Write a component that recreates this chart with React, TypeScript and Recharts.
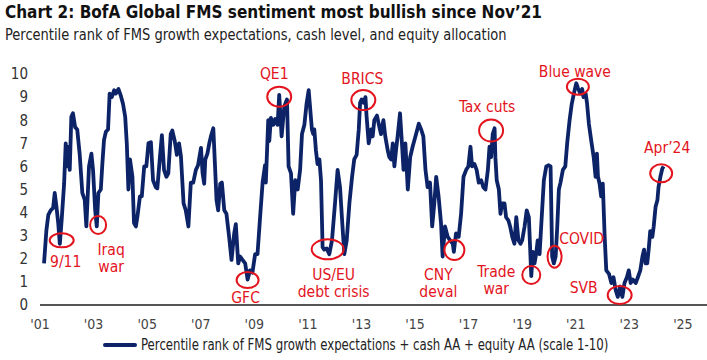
import { LineChart, Line, XAxis, YAxis, ReferenceDot } from "recharts";

const FONT = "'Liberation Sans Narrow', 'DejaVu Sans Condensed', 'Roboto', sans-serif";
const NAVY = "#0c2467";
const RED = "#e3141d";

// dates as decimal years
const dates = [
  2001.15, 2001.24, 2001.31, 2001.4, 2001.49, 2001.55, 2001.61, 2001.68, 2001.74, 2001.81, 2001.9, 2001.96,
  2002.02, 2002.08, 2002.11, 2002.17, 2002.23, 2002.31, 2002.39, 2002.48, 2002.58, 2002.67, 2002.73, 2002.83, 2002.92, 2002.98,
  2003.06, 2003.12, 2003.18, 2003.27, 2003.33, 2003.39, 2003.46, 2003.54, 2003.6, 2003.68, 2003.77, 2003.83, 2003.93,
  2004.02, 2004.1, 2004.18, 2004.24, 2004.3, 2004.36, 2004.45, 2004.51, 2004.58, 2004.64, 2004.73, 2004.8, 2004.89, 2004.97,
  2005.05, 2005.14, 2005.22, 2005.32, 2005.38, 2005.47, 2005.55, 2005.63, 2005.72, 2005.79, 2005.88, 2005.94,
  2006.03, 2006.11, 2006.19, 2006.26, 2006.36, 2006.44, 2006.54, 2006.63, 2006.72, 2006.82, 2006.9,
  2007.01, 2007.07, 2007.13, 2007.17, 2007.25, 2007.32, 2007.38, 2007.47, 2007.54, 2007.59, 2007.65, 2007.73, 2007.79, 2007.88, 2007.96,
  2008.06, 2008.15, 2008.25, 2008.31, 2008.4, 2008.47, 2008.56, 2008.66, 2008.75, 2008.84, 2008.93,
  2009.03, 2009.12, 2009.21, 2009.31, 2009.4, 2009.43, 2009.52, 2009.56, 2009.62, 2009.71, 2009.78, 2009.87, 2009.93,
  2010.02, 2010.12, 2010.22, 2010.28, 2010.37, 2010.45, 2010.53, 2010.62, 2010.71, 2010.78, 2010.87, 2010.95,
  2011.03, 2011.15, 2011.2, 2011.24, 2011.3, 2011.36, 2011.43, 2011.49, 2011.55, 2011.61, 2011.7, 2011.8, 2011.9,
  2012.02, 2012.11, 2012.2, 2012.27, 2012.36, 2012.45, 2012.55, 2012.65, 2012.73, 2012.82, 2012.9, 2012.95,
  2013.01, 2013.08, 2013.15, 2013.19, 2013.27, 2013.36, 2013.42, 2013.48, 2013.58, 2013.67, 2013.73, 2013.82, 2013.89, 2013.98,
  2014.04, 2014.11, 2014.17, 2014.23, 2014.29, 2014.35, 2014.44, 2014.52, 2014.57, 2014.64, 2014.73, 2014.82, 2014.91,
  2015.04, 2015.14, 2015.23, 2015.31, 2015.39, 2015.47, 2015.56, 2015.64, 2015.72, 2015.79, 2015.88, 2015.97,
  2016.03, 2016.12, 2016.22, 2016.31, 2016.41, 2016.45, 2016.53, 2016.63, 2016.72, 2016.81, 2016.91, 2016.99,
  2017.07, 2017.13, 2017.22, 2017.3, 2017.38, 2017.47, 2017.55, 2017.63, 2017.72, 2017.78, 2017.84, 2017.9, 2017.97,
  2018.0, 2018.05, 2018.13, 2018.19, 2018.25, 2018.34, 2018.4, 2018.49, 2018.55, 2018.63, 2018.71, 2018.78, 2018.86, 2018.94,
  2019.0, 2019.09, 2019.17, 2019.25, 2019.34, 2019.4, 2019.46, 2019.52, 2019.58, 2019.65, 2019.71, 2019.81, 2019.9, 2019.99,
  2020.06, 2020.12, 2020.18, 2020.25, 2020.31, 2020.37, 2020.43, 2020.52, 2020.61, 2020.68, 2020.77, 2020.85, 2020.93,
  2021.02, 2021.08, 2021.17, 2021.24, 2021.29, 2021.37, 2021.42, 2021.49, 2021.58, 2021.67, 2021.74, 2021.79, 2021.83, 2021.89, 2021.95,
  2022.01, 2022.08, 2022.14, 2022.24, 2022.33, 2022.41, 2022.49, 2022.57, 2022.66, 2022.74, 2022.82, 2022.91, 2022.98,
  2023.05, 2023.13, 2023.24, 2023.32, 2023.41, 2023.49, 2023.55, 2023.61, 2023.67, 2023.73, 2023.78, 2023.86, 2023.91, 2023.98,
  2024.05, 2024.09, 2024.16, 2024.23, 2024.28,
];

// percentile rank (scale 1-10)
const fms = [
  1.8, 3.25, 3.9, 4.1, 4.2, 4.85, 4.3, 3.55, 2.65, 3.7, 5.25, 7.0,
  6.0, 6.85, 5.85, 8.15, 8.3, 7.7, 7.6, 6.55, 4.85, 4.55, 3.4, 6.0, 6.55, 5.85,
  4.1, 3.4, 4.85, 5.0, 6.15, 7.15, 7.5, 7.6, 9.15, 9.0, 9.3, 9.15, 9.35,
  9.05, 8.7, 8.15, 7.0, 5.0, 6.3, 5.55, 3.55, 3.4, 3.85, 4.7, 4.7, 6.0, 6.0,
  7.0, 7.05, 5.4, 5.1, 5.05, 6.3, 7.35, 5.85, 5.55, 5.7, 7.4, 7.55,
  7.1, 6.5, 7.0, 6.45, 4.4, 4.1, 3.4, 5.3, 5.3, 5.85, 6.05,
  6.8, 5.7, 5.25, 6.3, 6.55, 7.0, 7.3, 7.65, 5.85, 4.55, 4.1, 5.25, 5.3, 4.1, 3.95,
  2.95, 1.95, 3.1, 3.5, 1.8, 2.1, 1.95, 1.8, 1.1, 1.5, 1.4,
  2.2, 2.2, 3.7, 5.3, 6.05, 5.3, 8.0, 7.1, 8.1, 7.8, 8.05, 7.8, 9.1,
  7.3, 8.6, 8.9, 6.0, 5.7, 3.95, 5.4, 5.0, 5.85, 7.4, 7.8, 8.7,
  9.3, 7.6, 7.4, 7.6, 6.7, 6.1, 6.3, 5.4, 2.5, 2.4, 2.45, 2.2, 2.8,
  4.5, 5.85, 5.1, 3.8, 2.2, 2.8, 4.4, 5.55, 6.3, 6.5, 7.6, 8.75,
  8.9, 8.75, 9.0, 8.2, 7.0, 7.6, 7.3, 8.0, 8.2, 7.7, 7.4, 8.0, 7.3, 6.7,
  6.4, 6.3, 7.0, 6.0, 6.7, 7.3, 8.3, 6.85, 5.85, 7.0, 5.0, 6.4, 6.85,
  7.4, 7.85, 7.6, 7.3, 5.85, 5.1, 5.3, 3.4, 4.4, 5.55, 4.7, 3.55,
  2.1, 3.4, 2.95, 2.8, 2.65, 2.3, 3.1, 2.95, 3.95, 5.55, 5.85, 6.0,
  6.85, 6.0, 6.1, 5.85, 5.3, 5.4, 5.1, 5.0, 5.85, 6.85, 6.4, 7.4, 7.65,
  6.4, 5.4, 5.0, 3.95, 4.4, 4.4, 3.8, 3.65, 3.4, 2.95, 2.65, 3.8, 2.8, 2.65,
  2.8, 3.4, 4.1, 3.8, 1.25, 2.3, 1.8, 2.2, 2.8, 2.2, 3.4, 5.4, 6.0, 6.05,
  6.0, 2.1, 1.8, 2.1, 3.4, 5.0, 5.3, 5.85, 6.0, 7.0, 8.0, 8.7, 9.15,
  9.6, 9.4, 9.15, 9.35, 9.0, 9.15, 8.75, 7.85, 7.1, 6.4, 5.55, 6.55, 5.55, 5.25, 4.7,
  5.25, 2.95, 1.5, 1.35, 0.95, 1.2, 0.65, 0.35, 0.8, 0.35, 0.95, 1.2, 1.5,
  0.95, 1.1, 0.95, 1.2, 1.5, 2.1, 2.4, 1.8, 1.8, 2.5, 3.2, 2.95, 3.4, 4.25,
  4.55, 5.1, 5.55, 5.9, 6.0,
];

const yearTicks = [2001, 2003, 2005, 2007, 2009, 2011, 2013, 2015, 2017, 2019, 2021, 2023, 2025];
const valueTicks = [0, 1, 2, 3, 4, 5, 6, 7, 8, 9, 10];

// annotated events: where the ellipse sits, and its text lines
const eventNames = ["9/11", "Iraq war", "GFC", "QE1", "US/EU debt crisis", "BRICS", "CNY deval", "Tax cuts", "Trade war", "COVID", "Blue wave", "SVB", "Apr’24"];
const eventDates = [2001.81, 2003.17, 2008.75, 2009.93, 2011.74, 2013.07, 2016.47, 2017.84, 2019.34, 2020.21, 2021.08, 2022.64, 2024.19];
const eventValues = [2.8, 3.46, 1.08, 9.02, 2.41, 8.87, 2.38, 7.55, 1.3, 2.09, 9.45, 0.43, 5.7];
const eventLines = [["9/11"], ["Iraq", "war"], ["GFC"], ["QE1"], ["US/EU", "debt crisis"], ["BRICS"], ["CNY", "deval"], ["Tax cuts"], ["Trade", "war"], ["COVID"], ["Blue wave"], ["SVB"], ["Apr’24"]];

// ellipse radii and label offsets (px) for each event
const eventLayout: Record<string, { rx: number; ry: number; dx: number; dy: number }> = {
  "9/11": { rx: 12, ry: 7, dx: 4, dy: 22 },
  "Iraq war": { rx: 8, ry: 9, dx: 13, dy: 25 },
  GFC: { rx: 11, ry: 8, dx: -2, dy: 18 },
  QE1: { rx: 12, ry: 10, dx: -5, dy: -23 },
  "US/EU debt crisis": { rx: 16, ry: 10, dx: 6, dy: 26 },
  BRICS: { rx: 12, ry: 10, dx: -1, dy: -21 },
  "CNY deval": { rx: 10, ry: 10, dx: -16, dy: 25 },
  "Tax cuts": { rx: 12, ry: 11, dx: -4, dy: -24 },
  "Trade war": { rx: 9, ry: 9, dx: -35, dy: -3 },
  COVID: { rx: 7, ry: 11, dx: 27, dy: -18 },
  "Blue wave": { rx: 11, ry: 8, dx: -3, dy: -15 },
  SVB: { rx: 12, ry: 9, dx: -36, dy: -7 },
  "Apr’24": { rx: 11, ry: 9, dx: 6, dy: -25 },
};

const data = dates.map((d, i) => ({ date: d, value: fms[i] }));

function eventShape(name: string, lines: string[]) {
  const lay = eventLayout[name];
  return (props: any) => {
    const { cx, cy } = props;
    return (
      <g>
        <ellipse cx={cx} cy={cy} rx={lay.rx} ry={lay.ry} fill="none" stroke={RED} strokeWidth={2} />
        {lines.map((t, j) => (
          <text
            key={j}
            x={cx + lay.dx}
            y={cy + lay.dy + j * 17}
            textAnchor="middle"
            dominantBaseline="central"
            fill={RED}
            fontSize={15.5}
            fontFamily={FONT}
          >
            {t}
          </text>
        ))}
      </g>
    );
  };
}

export default function App() {
  return (
    <div style={{ position: "relative", width: 707, height: 360, background: "#fff", fontFamily: FONT, overflow: "hidden" }}>
      <style>{`body{margin:0}`}</style>
      <div style={{ position: "absolute", left: 5, top: 2, fontSize: 17, fontWeight: 700, color: "#111", whiteSpace: "nowrap" }}>
        Chart 2: BofA Global FMS sentiment most bullish since Nov’21
      </div>
      <div style={{ position: "absolute", left: 5, top: 25, fontSize: 16, color: "#222", whiteSpace: "nowrap", transform: "scaleX(0.905)", transformOrigin: "left center" }}>
        Percentile rank of FMS growth expectations, cash level, and equity allocation
      </div>

      <div style={{ position: "absolute", left: 0, top: 0 }}>
        <LineChart width={707} height={360} data={data} margin={{ top: 74, right: 0, left: 0, bottom: 25 }}>
          <XAxis
            dataKey="date"
            type="number"
            domain={[2001, 2025.9]}
            ticks={yearTicks}
            tickFormatter={(y: number) => "'" + String(y).slice(2)}
            height={30}
            tickSize={0}
            tickMargin={14}
            axisLine={{ stroke: "#555", strokeWidth: 2 }}
            tick={{ fill: "#444", fontSize: 14, fontFamily: FONT }}
            allowDataOverflow
          />
          <YAxis
            type="number"
            domain={[0, 10]}
            ticks={valueTicks}
            width={40}
            tickSize={0}
            tickMargin={12}
            axisLine={false}
            tick={{ fill: "#333", fontSize: 15, fontFamily: FONT }}
          />
          <Line
            type="linear"
            dataKey="value"
            stroke={NAVY}
            strokeWidth={3.8}
            dot={false}
            strokeLinejoin="round"
            isAnimationActive={false}
          />
          {eventNames.map((name, i) => (
            <ReferenceDot
              key={name}
              x={eventDates[i]}
              y={eventValues[i]}
              r={0}
              ifOverflow="visible"
              shape={eventShape(name, eventLines[i])}
            />
          ))}
        </LineChart>
      </div>

      <div style={{ position: "absolute", left: 103, top: 336, display: "flex", alignItems: "center", whiteSpace: "nowrap" }}>
        <span style={{ display: "inline-block", width: 34, height: 4, background: NAVY, marginRight: 4, borderRadius: 2 }} />
        <span style={{ fontSize: 15, color: "#222", display: "inline-block", transform: "scaleX(0.87)", transformOrigin: "left center" }}>
          Percentile rank of FMS growth expectations + cash AA + equity AA (scale 1-10)
        </span>
      </div>
    </div>
  );
}
